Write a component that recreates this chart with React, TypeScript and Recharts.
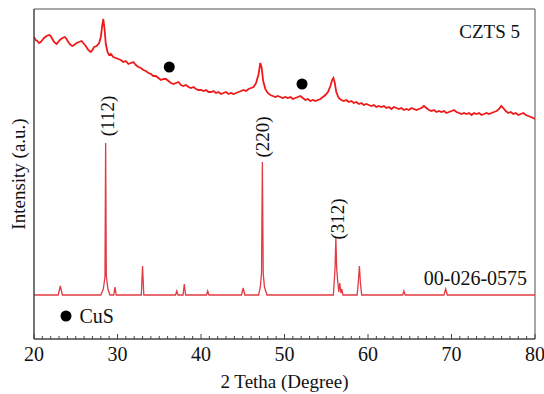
import React from 'react';
import { LineChart, Line, XAxis, YAxis, ReferenceDot, ReferenceLine, Label } from 'recharts';

const FONT = '"Liberation Serif", "Times New Roman", serif';

// CZTS 5 film: 2θ (degrees) and intensity (a.u.)
const filmAngle = [
  20.0, 20.2, 20.4, 20.6, 20.8, 21.0, 21.2, 21.5, 21.8, 22.0, 22.2, 22.4, 22.7, 22.9, 23.1, 23.4,
  23.7, 23.9, 24.1, 24.4, 24.6, 24.8, 25.1, 25.4, 25.7, 25.9, 26.2, 26.5, 26.8, 27.0, 27.2, 27.5,
  27.8, 28.0, 28.15, 28.3, 28.45, 28.6, 28.8, 29.0, 29.2, 29.5, 29.8, 30.1, 30.4, 30.7, 31.0, 31.3,
  31.6, 31.9, 32.2, 32.5, 32.8, 33.1, 33.4, 33.7, 34.0, 34.3, 34.6, 34.9, 35.2, 35.5, 35.8, 36.1,
  36.4, 36.7, 37.0, 37.3, 37.6, 37.9, 38.2, 38.5, 38.8, 39.1, 39.4, 39.7, 40.0, 40.3, 40.6, 40.9,
  41.2, 41.5, 41.8, 42.1, 42.4, 42.7, 43.0, 43.3, 43.6, 43.9, 44.2, 44.5, 44.8, 45.1, 45.4, 45.7,
  46.0, 46.3, 46.6, 46.9, 47.1, 47.25, 47.45, 47.7, 48.0, 48.3, 48.6, 48.9, 49.2, 49.5, 49.8, 50.1,
  50.4, 50.7, 51.0, 51.3, 51.6, 51.9, 52.2, 52.5, 52.8, 53.1, 53.4, 53.7, 54.0, 54.3, 54.6, 54.9,
  55.2, 55.5, 55.7, 55.85, 56.0, 56.2, 56.5, 56.8, 57.1, 57.4, 57.7, 58.0, 58.3, 58.6, 58.9, 59.2,
  59.5, 59.8, 60.1, 60.4, 60.7, 61.0, 61.3, 61.6, 61.9, 62.2, 62.5, 62.8, 63.1, 63.4, 63.7, 64.0,
  64.3, 64.6, 64.9, 65.2, 65.5, 65.8, 66.1, 66.4, 66.7, 67.0, 67.3, 67.6, 67.9, 68.2, 68.5, 68.8,
  69.1, 69.4, 69.7, 70.0, 70.3, 70.6, 70.9, 71.2, 71.5, 71.8, 72.1, 72.4, 72.7, 73.0, 73.3, 73.6,
  73.9, 74.2, 74.5, 74.8, 75.1, 75.4, 75.7, 75.95, 76.2, 76.5, 76.8, 77.1, 77.4, 77.7, 78.0, 78.3,
  78.6, 78.9, 79.2, 79.5, 79.8, 80.0,
];
const filmIntensity = [
  302, 299, 298, 296, 297, 299, 301, 303, 304, 303, 300, 297, 295, 297, 299, 301,
  302, 300, 297, 294, 293, 294, 296, 297, 298, 296, 293, 289, 287, 289, 292, 293,
  296, 302, 312, 320, 310, 295, 287, 284, 285, 282, 281, 280, 279, 277, 278, 275,
  276, 277, 274, 272, 271, 269, 268, 266, 265, 263, 263, 261, 259, 260, 260, 258,
  256, 255, 256, 257, 254, 253, 254, 252, 251, 252, 250, 249, 249, 248, 249, 247,
  247, 248, 246, 247, 245, 246, 247, 245, 246, 245, 246, 247, 248, 249, 248, 250,
  251, 252, 256, 265, 276, 272, 258, 250, 246, 244, 243, 242, 243, 242, 241, 242,
  241, 242, 240, 241, 242, 243, 241, 239, 240, 238, 239, 238, 239, 240, 242, 244,
  247, 253, 259, 261, 257, 247, 241, 239, 238, 239, 237, 238, 236, 237, 235, 236,
  234, 235, 234, 233, 234, 232, 233, 232, 233, 231, 232, 230, 232, 231, 230, 231,
  229, 230, 229, 231, 230, 229, 230, 231, 233, 231, 229, 228, 229, 227, 228, 227,
  228, 226, 227, 228, 229, 227, 226, 225, 226, 225, 226, 224, 226, 225, 226, 224,
  225, 226, 225, 226, 227, 228, 230, 233, 231, 228, 226, 227, 225, 226, 224, 225,
  226, 224, 223, 222, 221, 220,
];

// Reference card 00-026-0575: 2θ (degrees) and intensity (a.u.)
const refAngle = [
  20.0, 22.9, 23.15, 23.4, 28.0, 28.3, 28.5, 28.58, 28.66, 28.85, 29.1, 29.55, 29.7, 29.85,
  32.85, 33.0, 33.15, 36.95, 37.1, 37.25, 37.85, 38.0, 38.15, 40.65, 40.8, 40.95, 44.85, 45.05,
  45.25, 46.9, 47.1, 47.25, 47.35, 47.45, 47.6, 47.9, 55.85, 56.05, 56.15, 56.25, 56.35, 56.5,
  56.62, 56.75, 56.85, 57.0, 58.7, 58.85, 58.97, 59.1, 59.25, 64.15, 64.3, 64.45, 69.1, 69.3,
  69.5, 80.0,
];
const refIntensity = [
  44, 44, 53, 44, 44, 50, 62, 196, 63, 50, 44, 44, 52, 44,
  44, 73, 44, 44, 48, 44, 44, 55, 44, 44, 48, 44, 44, 51,
  44, 44, 52, 66, 177, 66, 52, 44, 44, 70, 101, 70, 60, 47,
  56, 46, 50, 44, 44, 58, 73, 55, 44, 44, 48, 44, 44, 50,
  44, 44,
];

// CuS impurity markers on the film pattern
const cusAngle = [36.2, 52.1];
const cusIntensity = [272, 255];

// Miller indices of the main reflections
const hklText = ['(112)', '(220)', '(312)'];
const hklAngle = [28.74, 47.35, 56.3];
const hklIntensity = [223, 202, 120];

const xTicks = [
  20, 21, 22, 23, 24, 25, 26, 27, 28, 29, 30, 31, 32, 33, 34, 35, 36, 37, 38, 39, 40,
  41, 42, 43, 44, 45, 46, 47, 48, 49, 50, 51, 52, 53, 54, 55, 56, 57, 58, 59, 60,
  61, 62, 63, 64, 65, 66, 67, 68, 69, 70, 71, 72, 73, 74, 75, 76, 77, 78, 79, 80,
];

const filmData = filmAngle.map((x, i) => ({ x, y: filmIntensity[i] }));
const refData = refAngle.map((x, i) => ({ x, y: refIntensity[i] }));

const AxisTick = (props: any) => {
  const { x, y, payload } = props;
  const v = payload.value as number;
  const major = v % 10 === 0;
  return (
    <g>
      <line x1={x} x2={x} y1={y} y2={y - (major ? 5 : 3)} stroke="#444" strokeWidth={1} />
      {major && (
        <text x={x} y={y + 22} textAnchor="middle" fontSize={20} fontFamily={FONT} fill="#111">
          {v}
        </text>
      )}
    </g>
  );
};

const textStyle = { fontSize: 19, fontFamily: FONT, fill: '#111' };

export default function App() {
  return (
    <div style={{ position: 'absolute', left: 0, top: 0, background: '#fff' }}>
      <LineChart width={544} height={394} margin={{ top: 9, right: 9, bottom: 0, left: 0 }}>
        <XAxis
          type="number"
          dataKey="x"
          domain={[20, 80]}
          ticks={xTicks}
          interval={0}
          tick={<AxisTick />}
          tickLine={false}
          tickSize={0}
          tickMargin={0}
          height={55}
          axisLine={{ stroke: '#444', strokeWidth: 1.5 }}
          allowDataOverflow
        >
          <Label value="2 Tetha (Degree)" position="insideBottom" offset={6} {...textStyle} />
        </XAxis>
        <YAxis
          type="number"
          dataKey="y"
          domain={[0, 330]}
          width={34}
          tick={false}
          tickLine={false}
          axisLine={{ stroke: '#444', strokeWidth: 1.5 }}
          allowDataOverflow
        >
          <Label value="Intensity (a.u.)" angle={-90} position="center" dx={1} {...textStyle} />
        </YAxis>
        <ReferenceLine y={330} stroke="#8a8a8a" strokeWidth={1.5} />
        <ReferenceLine x={80} stroke="#8a8a8a" strokeWidth={1.5} />

        <Line
          data={refData}
          dataKey="y"
          type="linear"
          stroke="#e23b44"
          strokeWidth={1.3}
          dot={false}
          isAnimationActive={false}
        />
        <Line
          data={filmData}
          dataKey="y"
          type="linear"
          stroke="#f01818"
          strokeWidth={1.8}
          dot={false}
          isAnimationActive={false}
        />

        {cusAngle.map((a, i) => (
          <ReferenceDot key={`cus-${i}`} x={a} y={cusIntensity[i]} r={5.5} fill="#000" stroke="none" />
        ))}

        {hklText.map((t, i) => (
          <ReferenceDot key={`hkl-${i}`} x={hklAngle[i]} y={hklIntensity[i]} r={0} fill="none" stroke="none">
            <Label value={t} angle={-90} position="center" {...textStyle} />
          </ReferenceDot>
        ))}

        <ReferenceDot x={78.2} y={308} r={0} fill="none" stroke="none">
          <Label value="CZTS 5" position="left" offset={0} {...textStyle} />
        </ReferenceDot>
        <ReferenceDot x={79.05} y={61} r={0} fill="none" stroke="none">
          <Label value="00-026-0575" position="left" offset={0} {...textStyle} fontSize={20} />
        </ReferenceDot>

        <ReferenceDot x={23.83} y={23} r={5.5} fill="#000" stroke="none">
          <Label value="CuS" position="right" offset={8} {...textStyle} fontSize={20} />
        </ReferenceDot>
      </LineChart>
    </div>
  );
}
